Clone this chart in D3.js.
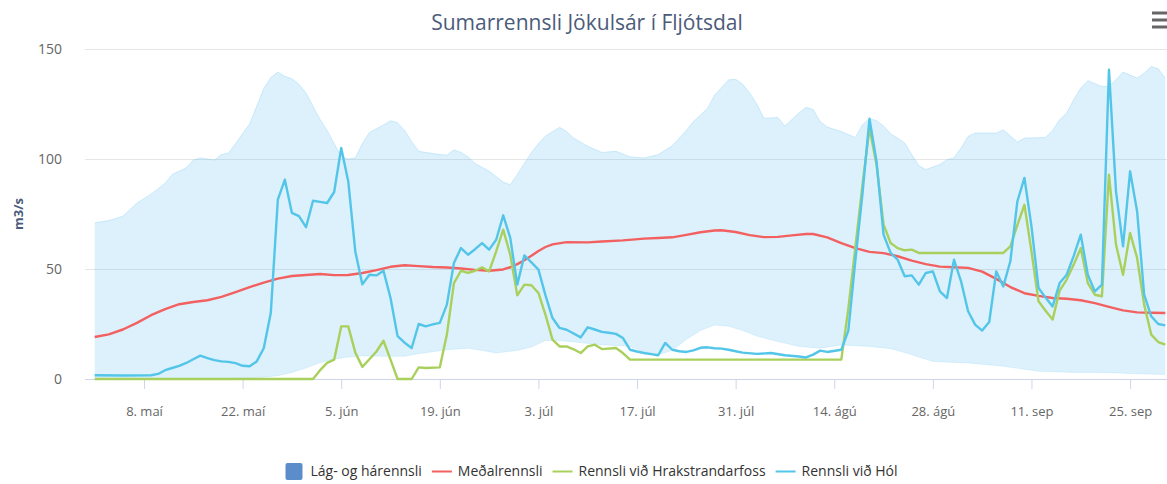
<!DOCTYPE html>
<html>
<head>
<meta charset="utf-8">
<script src="https://cdn.jsdelivr.net/npm/d3@7"></script>
<style>
  body { margin: 0; background: #fff; }
  svg { display: block; font-family: "Open Sans", sans-serif; }
</style>
</head>
<body>
<div id="chart"></div>
<script>
// season starts 1. maí, all series are [day since start, m3/s]
const startDate = "2019-05-01";

const rangeHigh = [[0,71],[2,72],[4,74],[6,80],[8,84],[10,89],[11,93],[13,96],[14,99.5],[15,100.5],[17,99.5],[18,102],[19,102.7],[20,107],[22,116],[23,124],[24,132],[25,137],[26,139.5],[27,137.6],[28,136.5],[29,134],[30,130],[31,124],[32,118],[33,113],[34,107],[35,101],[36,100],[37,100.5],[38,107],[39,112],[41,115.5],[42,117.4],[43,116.5],[44,113],[45,108],[46,103.5],[48,102.5],[50,101.7],[51,104.2],[52,103],[53,101],[54,98],[56,94.5],[58,89.5],[59,88.3],[60,93],[61,98],[62,103],[63,107],[64,110.5],[66,114.4],[67,112.5],[68,109.5],[70,105.8],[72,103],[74,103.5],[76,101],[78,100.5],[80,102],[82,106],[84,113],[85,117],[87,123],[88,129],[90,136],[91,136.2],[92,134],[93,130],[94,125],[95,118.5],[97,118.9],[98,115],[100,121],[101,123.5],[102,122.5],[103,117],[104,114.5],[106,112.5],[108,109.8],[109,115.6],[110,118.3],[111,117.5],[112,115],[113,111.5],[114,109.5],[115,107.3],[116,102],[117,97],[118,95.2],[120,97.5],[121,99.7],[122,100.5],[123,105],[124,110.3],[125,111.8],[128,111.8],[129,113.3],[131,107.7],[132,109.5],[135,109.8],[136,113],[137,117.9],[138,120.9],[139,127],[140,132.3],[141,135.6],[143,133],[144,133],[145,136],[146,139.5],[148,136.8],[149,139],[150,142],[151,141],[152,136.8]];

const rangeLow = [[0,0.3],[10,0.3],[20,0.3],[24,0.8],[26,1.5],[28,3],[30,5],[32,7.5],[34,9],[36,10],[38,10.5],[41,10.3],[44,10.3],[46,11.5],[50,13.3],[53,14],[55,13],[57,11.8],[60,13],[62,14.5],[64,17.5],[66,17.5],[68,16.8],[72,15.6],[76,14.8],[78,12.5],[80,11],[82,13],[84,18],[86,22],[88,24.5],[90,24],[92,22],[94,19.5],[97,17],[100,14.8],[103,14],[106,15.5],[110,14.8],[113,13.8],[115,12],[119,8],[124,7.3],[129,5.8],[134,3.5],[139,3],[143,3],[148,2.4],[152,2]];

const medal = [[0,19.1],[2,20.3],[4,22.5],[6,25.5],[8,29],[10,31.8],[12,34],[14,35],[16,35.8],[18,37.3],[20,39.5],[22,41.8],[24,43.8],[26,45.6],[28,46.8],[30,47.3],[32,47.7],[34,47.2],[36,47.3],[38,48.2],[40,49.5],[42,51],[44,51.7],[46,51.3],[48,50.9],[50,50.7],[52,50.2],[54,49.6],[56,49.2],[58,49.8],[59,50.8],[60,52.2],[61,54],[62,56],[63,58.2],[64,60],[65,61.2],[67,62.2],[70,62.1],[72,62.5],[75,63],[78,63.8],[80,64.1],[82,64.4],[84,65.5],[86,66.7],[88,67.5],[89,67.6],[91,66.8],[93,65.4],[95,64.5],[97,64.6],[99,65.3],[101,65.9],[102,65.9],[104,64.4],[106,61.8],[108,59.5],[110,57.8],[112,57.2],[114,55.8],[116,53.8],[118,52.2],[120,51.1],[122,50.8],[124,50.5],[126,48.8],[128,45.5],[130,41.8],[132,39],[134,37.8],[136,36.8],[138,36.5],[140,35.8],[142,34.5],[144,32.8],[146,31.2],[148,30.3],[150,30.1],[152,30]];

const hrakstrandarfoss = [[0,0],[31,0],[32,4],[33,7.3],[34,8.8],[35,23.9],[36,23.9],[37,12],[38,5.5],[39,9],[40,12.5],[41,17.4],[42,8.8],[43,0],[45,0],[46,5.3],[47,5],[49,5.3],[50,20.2],[51,43.6],[52,49.2],[53,48.2],[54,49.2],[55,50.8],[56,48.9],[57,58],[58,67.9],[59,56.5],[60,38],[61,42.9],[62,42.6],[63,39.1],[64,29.2],[65,17.9],[66,14.8],[67,14.8],[68,13.5],[69,11.8],[70,14.8],[71,15.6],[72,13.6],[74,14.1],[75,11.8],[76,8.8],[106,8.8],[107,32],[108,60],[109,88],[110,114.1],[111,97.4],[112,70.2],[113,61.8],[114,59.5],[115,58.5],[116,58.8],[117,57.3],[129,57.3],[130,60.3],[131,70],[132,79.2],[133,58],[134,35.3],[135,31],[136,27],[137,40.2],[138,45.2],[139,52],[140,59.5],[141,43.6],[142,38.3],[143,37.6],[144,92.9],[145,61.1],[146,47.4],[147,66.4],[148,55],[149,33.8],[150,20.2],[151,16.8],[152,15.6]];

const hol = [[0,1.7],[4,1.6],[8,1.7],[9,2.3],[10,4],[11,5],[12,6],[13,7.3],[14,9],[15,10.6],[16,9.5],[17,8.6],[18,8],[19,7.8],[20,7.2],[21,6],[22,5.8],[23,8],[24,14],[25,30],[26,81.5],[27,90.6],[28,75.5],[29,74],[30,69],[31,81],[32,80.5],[33,80],[34,85],[35,105],[36,89.8],[37,58],[38,43],[39,47.4],[40,47.1],[41,49.2],[42,36.8],[43,19.5],[44,16.5],[45,14.1],[46,25],[47,23.9],[48,24.8],[49,25.5],[50,33.8],[51,52.7],[52,59.5],[53,56.5],[54,59],[55,61.8],[56,58.8],[57,63.3],[58,74.4],[59,64.1],[60,42.9],[61,56.2],[62,53],[63,49.7],[64,38],[65,27.7],[66,23.2],[67,22.4],[68,20.7],[69,18.9],[70,23.5],[71,22.5],[72,21.4],[73,21],[74,20.5],[75,18.6],[76,13.3],[77,12.5],[78,11.8],[79,11.3],[80,10.8],[81,16.4],[82,13.3],[83,12.6],[84,12.3],[85,13],[86,14.2],[87,14.4],[88,14],[89,13.8],[90,13.3],[91,12.6],[92,12],[94,11.4],[96,11.8],[98,10.8],[100,10.2],[101,9.8],[102,11.1],[103,12.9],[104,12.3],[106,13.3],[107,22],[108,54],[109,84],[110,118.3],[111,98.9],[112,65.6],[113,57.3],[114,54.2],[115,46.7],[116,47.1],[117,42.9],[118,48.2],[119,48.9],[120,39.8],[121,36.8],[122,54.2],[123,44.4],[124,30.8],[125,24.7],[126,22],[127,25.9],[128,48.9],[129,42.1],[130,53.5],[131,80.8],[132,91.4],[133,69.4],[134,41.4],[135,37],[136,33],[137,43.6],[138,47.4],[139,56],[140,65.6],[141,47.4],[142,39.8],[143,42.9],[144,140.6],[145,85.3],[146,60.3],[147,94.4],[148,76.2],[149,38.3],[150,28.5],[151,25],[152,24.4]];

const xTickDates = ["2019-05-08","2019-05-22","2019-06-05","2019-06-19","2019-07-03","2019-07-17","2019-07-31","2019-08-14","2019-08-28","2019-09-11","2019-09-25"];
const xTickLabels = ["8. maí","22. maí","5. jún","19. jún","3. júl","17. júl","31. júl","14. ágú","28. ágú","11. sep","25. sep"];
const yTicks = [0, 50, 100, 150];

const seriesNames = ["Lág- og hárennsli", "Meðalrennsli", "Rennsli við Hrakstrandarfoss", "Rennsli við Hól"];
const seriesColors = ["#5b8dca", "#f26060", "#a9d05c", "#53c5e9"];

// chart dimensions
const W = 1167, H = 484;
const plot = {left: 85, right: 1167, top: 49, bottom: 379};

const parse = d3.timeParse("%Y-%m-%d");
const t0 = parse(startDate);
const dayToDate = d => d3.timeDay.offset(t0, d);

const svg = d3.select("#chart").append("svg")
  .attr("width", W).attr("height", H);

svg.append("rect").attr("width", W).attr("height", H).attr("fill", "#fff");

const x = d3.scaleTime()
  .domain([t0, dayToDate(152)])
  .range([94.7, 1165.3]);

const y = d3.scaleLinear()
  .domain([0, 150])
  .range([plot.bottom, plot.top]);

// title
svg.append("text")
  .attr("x", 587).attr("y", 30)
  .attr("text-anchor", "middle")
  .style("font-size", "21px")
  .style("fill", "#4b5b7a")
  .text("Sumarrennsli Jökulsár í Fljótsdal");

// menu icon
svg.append("g").selectAll("line")
  .data([13, 20, 27])
  .join("line")
    .attr("x1", 1152).attr("x2", 1167)
    .attr("y1", d => d).attr("y2", d => d)
    .attr("stroke", "#666").attr("stroke-width", 3);

// gridlines
svg.append("g").selectAll("line")
  .data(yTicks.filter(d => d > 0))
  .join("line")
    .attr("x1", plot.left).attr("x2", plot.right)
    .attr("y1", d => y(d) + 0.5).attr("y2", d => y(d) + 0.5)
    .attr("stroke", "#e6e6e6");

// y labels
svg.append("g").selectAll("text")
  .data(yTicks)
  .join("text")
    .attr("x", 62).attr("y", d => y(d) + 5)
    .attr("text-anchor", "end")
    .style("font-size", "14px")
    .style("fill", "#666")
    .text(d => d);

svg.append("text")
  .attr("transform", `translate(23,${(plot.top + plot.bottom) / 2}) rotate(-90)`)
  .attr("text-anchor", "middle")
  .style("font-size", "13px")
  .style("font-weight", "bold")
  .style("fill", "#4b5b7a")
  .text("m3/s");

// x axis
const xAxis = svg.append("g")
  .attr("transform", `translate(0,${plot.bottom})`)
  .call(d3.axisBottom(x)
    .tickValues(xTickDates.map(parse))
    .tickFormat((d, i) => xTickLabels[i])
    .tickSize(10)
    .tickSizeOuter(0));
xAxis.select(".domain").remove();
xAxis.selectAll(".tick line").attr("stroke", "#ccd6eb");
xAxis.selectAll(".tick text")
  .attr("dy", null).attr("y", 37)
  .style("font-size", "13px")
  .style("font-family", "'Open Sans', sans-serif")
  .style("fill", "#666");
svg.append("line")
  .attr("x1", plot.left).attr("x2", plot.right)
  .attr("y1", plot.bottom + 0.5).attr("y2", plot.bottom + 0.5)
  .attr("stroke", "#ccd6eb");

// range band: upper edge left to right, lower edge back
const line = d3.line()
  .x(d => x(dayToDate(d[0])))
  .y(d => y(d[1]));

const bandPath = line(rangeHigh) + "L" + line(rangeLow.slice().reverse()).slice(1) + "Z";
svg.append("path")
  .attr("d", bandPath)
  .attr("fill", "rgb(90,190,240)")
  .attr("fill-opacity", 0.21)
  .attr("stroke", "none");
svg.append("path")
  .attr("d", line(rangeHigh))
  .attr("fill", "none")
  .attr("stroke", "rgb(90,190,240)")
  .attr("stroke-opacity", 0.25);
svg.append("path")
  .attr("d", line(rangeLow))
  .attr("fill", "none")
  .attr("stroke", "rgb(90,190,240)")
  .attr("stroke-opacity", 0.15);

// the three lines
[[medal, 1], [hrakstrandarfoss, 2], [hol, 3]].forEach(([data, i]) => {
  svg.append("path")
    .datum(data)
    .attr("d", line)
    .attr("fill", "none")
    .attr("stroke", seriesColors[i])
    .attr("stroke-width", 2.4)
    .attr("stroke-linejoin", "round");
});

// legend
const legend = svg.append("g");
let lx = 0;
seriesNames.forEach((name, i) => {
  const g = legend.append("g").attr("transform", `translate(${lx},0)`);
  if (i === 0) {
    g.append("rect")
      .attr("x", 1).attr("y", -8).attr("width", 17).attr("height", 17).attr("rx", 2)
      .attr("fill", seriesColors[i]);
  } else {
    g.append("line")
      .attr("x1", 0).attr("x2", 20).attr("y1", 0.5).attr("y2", 0.5)
      .attr("stroke", seriesColors[i]).attr("stroke-width", 2);
  }
  const t = g.append("text")
    .attr("x", 26).attr("y", 5)
    .style("font-size", "14px")
    .style("fill", "#333")
    .text(name);
  lx += 26 + t.node().getComputedTextLength() + 10;
});
legend.attr("transform", `translate(${591 - (lx - 10) / 2},471)`);
</script>
</body>
</html>
